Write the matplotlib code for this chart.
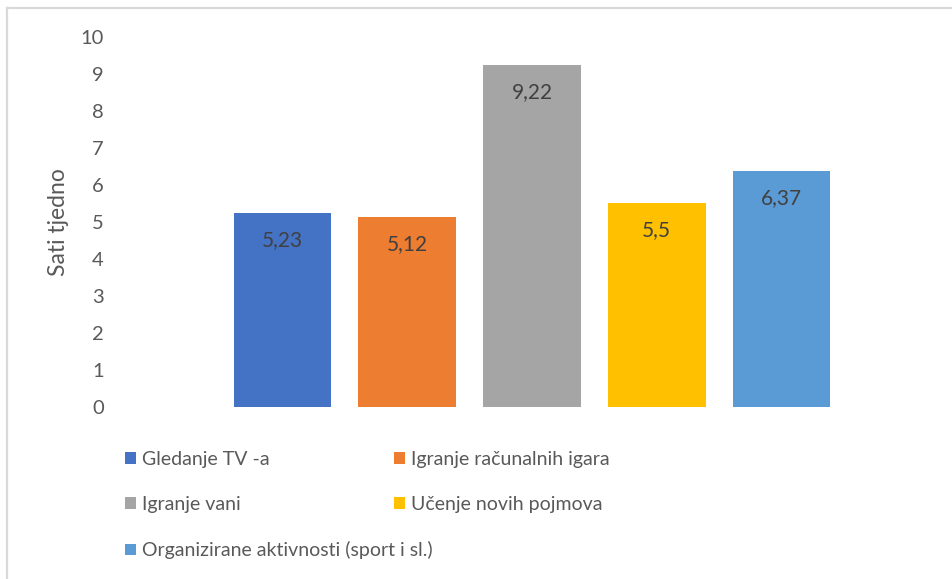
import matplotlib
matplotlib.use("Agg")
from matplotlib import pyplot as plt
from matplotlib.lines import Line2D

# data
activities = ["Gledanje TV -a", "Igranje računalnih igara", "Igranje vani",
              "Učenje novih pojmova", "Organizirane aktivnosti (sport i sl.)"]
hours = [5.23, 5.12, 9.22, 5.5, 6.37]
colors = ["#4472C4", "#ED7D31", "#A5A5A5", "#FFC000", "#5B9BD5"]
y_ticks = list(range(0, 11))

plt.rcParams['font.family'] = ['Lato', 'DejaVu Sans']
text_col = "#595959"

W, H = 953, 579
fig = plt.figure(figsize=(W / 100, H / 100), dpi=100)

# axes placement in pixels
L, R, B, T = 112, 952, 407, 36.5
ax = fig.add_axes([L / W, 1 - B / H, (R - L) / W, (B - T) / H])

xs = list(range(len(hours)))
bars = ax.bar(xs, hours, width=0.784, color=colors)

for x, v in zip(xs, hours):
    ax.annotate(str(v).replace('.', ','), (x, v), xytext=(0, -19.5),
                textcoords='offset points', ha='center', va='center',
                fontsize=15, color="#404040")

ax.set_xlim(-(283 - L) / 125, 4 + (R - 781) / 125)
ax.set_ylim(0, 10)
ax.set_yticks(y_ticks)
ax.set_xticks([])
ax.tick_params(axis='y', length=0, pad=6, labelsize=14.5, labelcolor=text_col)
for s in ax.spines.values():
    s.set_visible(False)

ax.set_ylabel("Sati tjedno", fontsize=16.5, color=text_col)
ax.yaxis.set_label_coords((69 - L) / (R - L), 0.5)

# legend laid out row-wise: two columns placed separately
leg_kw = dict(loc='upper left', bbox_transform=fig.transFigure, frameon=False,
              fontsize=14, labelcolor=text_col, handlelength=0.55, handleheight=0.55,
              handletextpad=0.3, labelspacing=1.45, borderpad=0, borderaxespad=0)
col1 = [0, 2, 4]
col2 = [1, 3]
fig.legend([bars[i] for i in col1], [activities[i] for i in col1],
           bbox_to_anchor=(125 / W, 1 - 451 / H), **leg_kw)
fig.legend([bars[i] for i in col2], [activities[i] for i in col2],
           bbox_to_anchor=(394 / W, 1 - 451 / H), **leg_kw)

# chart frame (top and left edges visible)
fig.add_artist(Line2D([6.5 / W, 6.5 / W], [0, 1 - 8 / H], color="#D9D9D9", lw=1.6,
                      transform=fig.transFigure))
fig.add_artist(Line2D([6.5 / W, 1], [1 - 8 / H, 1 - 8 / H], color="#D9D9D9", lw=1.6,
                      transform=fig.transFigure))

fig.savefig("out.png", dpi=100, facecolor="white")
